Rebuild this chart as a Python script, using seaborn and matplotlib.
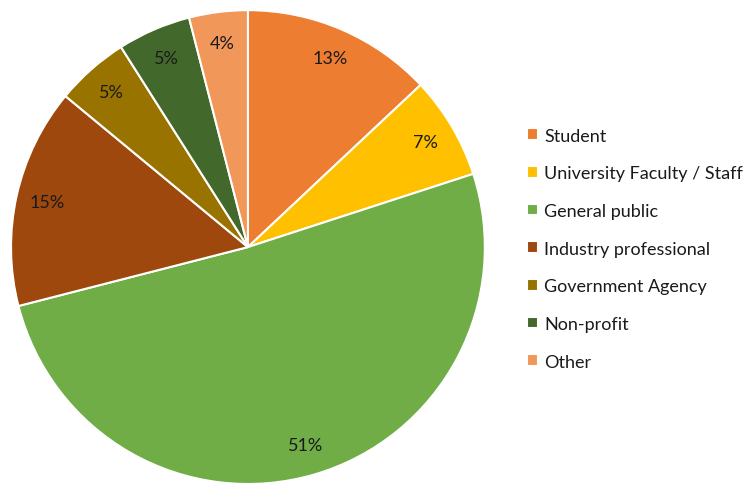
import matplotlib
matplotlib.use("Agg")
import matplotlib.pyplot as plt
import seaborn as sns

# respondent groups, in pie order (clockwise from 12 o'clock)
groups = ["Student", "University Faculty / Staff", "General public",
          "Industry professional", "Government Agency", "Non-profit", "Other"]
shares = [13, 7, 51, 15, 5, 5, 4]
colors = ["#ED7D31", "#FFC000", "#70AD47", "#9E480E", "#997300", "#43682B", "#F1975A"]

sns.set_theme(style="white")
plt.rcParams["font.family"] = ["Lato", "DejaVu Sans"]

fig = plt.figure(figsize=(7.45, 4.85), dpi=100)
ax = fig.add_axes([0.0148, 0.0, 0.636, 0.977])

wedges, texts, autotexts = ax.pie(
    shares,
    colors=sns.color_palette(colors),
    startangle=90,
    counterclock=False,
    autopct="%1.0f%%",
    pctdistance=0.87,
    wedgeprops=dict(edgecolor="white", linewidth=1.5),
    textprops=dict(fontsize=13, color="#1a1a1a"),
)
ax.set_xlim(-1.0, 1.0)
ax.set_ylim(-1.0, 1.0)
ax.set_aspect("equal")

fig.legend(wedges, groups, loc="upper left", bbox_to_anchor=(0.707, 0.735),
           frameon=False, fontsize=13, borderpad=0, borderaxespad=0,
           handlelength=0.62, handleheight=0.62, handletextpad=0.35,
           labelspacing=1.2, labelcolor="#1a1a1a")

fig.savefig("out.png", dpi=100, facecolor="white")
